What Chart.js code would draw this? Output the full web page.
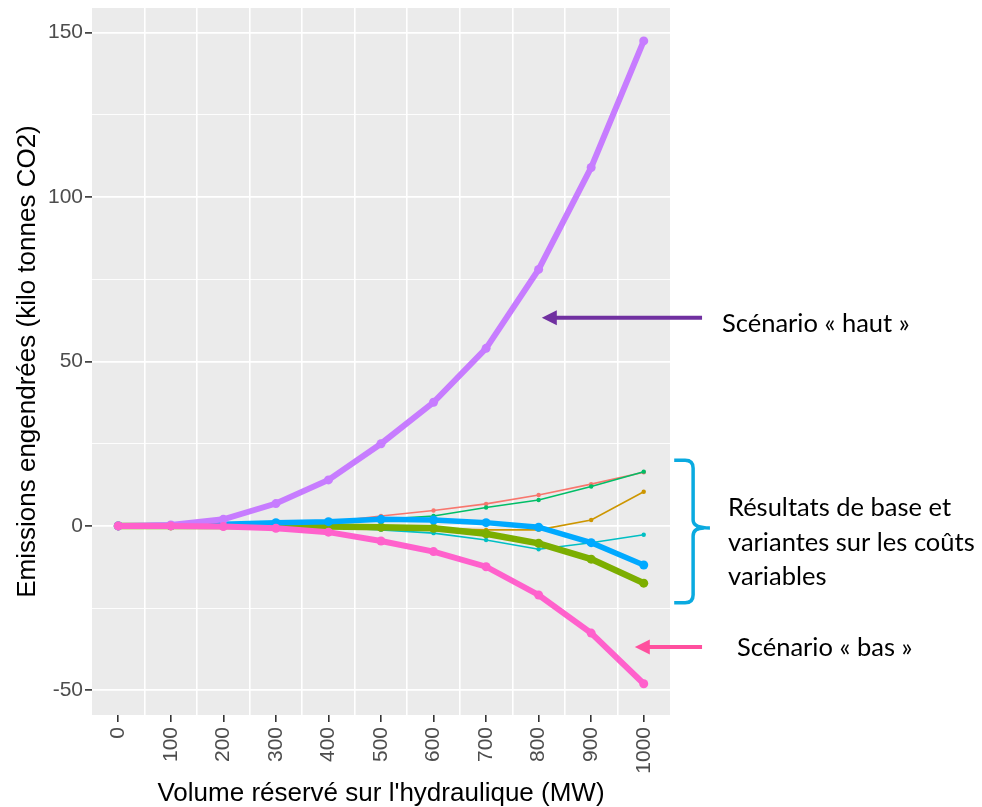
<!DOCTYPE html>
<html lang="fr">
<head>
  <meta charset="UTF-8">
  <title>Emissions engendrées — volume réservé sur l'hydraulique</title>
  <script src="https://cdn.jsdelivr.net/npm/chart.js@4/dist/chart.umd.min.js"></script>
  <style>
    * { margin: 0; padding: 0; box-sizing: border-box; }
    body { background: #fff; width: 982px; height: 807px; overflow: hidden; }
    .wrap { position: relative; width: 982px; height: 807px; }
  </style>
</head>
<body>
  <div class="wrap"><canvas id="chart"></canvas></div>

  <script>
    // ── Data ─────────────────────────────────────────────────────────────────
    const volumes = [0, 100, 200, 300, 400, 500, 600, 700, 800, 900, 1000];

    const scenarioBas   = [0, 0, -0.2, -0.7, -1.9, -4.6, -7.8, -12.4, -21.0, -32.6, -48.0];
    const scenarioHaut  = [0, 0.3, 2.0, 6.8, 14.0, 25.0, 37.6, 54.0, 78.0, 109.0, 147.5];
    const resultatBase  = [0, 0.1, 0.5, 1.0, 1.3, 2.0, 1.8, 1.0, -0.4, -5.1, -11.9];
    const varianteOlive = [0, 0, 0, -0.1, -0.2, -0.4, -0.7, -2.4, -5.3, -10.1, -17.4];
    const varianteTeal  = [0, 0, -0.1, -0.3, -0.4, -1.2, -2.2, -4.3, -7.1, -5.1, -2.7];
    const varianteVert  = [0, 0, 0.2, 0.5, 1.0, 2.0, 3.0, 5.6, 7.9, 12.0, 16.5];
    const varianteOr    = [0, 0, 0, -0.2, -0.4, -0.6, -0.8, -1.2, -1.2, 1.8, 10.4];
    const varianteRouge = [0, 0, 0.2, 0.5, 1.2, 3.0, 4.7, 6.7, 9.4, 12.7, 16.3];

    const xTicks = [0, 100, 200, 300, 400, 500, 600, 700, 800, 900, 1000];
    const yTicks = [-50, 0, 50, 100, 150];

    // ── Helpers ──────────────────────────────────────────────────────────────
    const pts = (ys) => volumes.map((x, i) => ({ x, y: ys[i] }));

    function series(ys, color, width, radius) {
      return {
        data: pts(ys),
        borderColor: color,
        backgroundColor: color,
        borderWidth: width,
        pointRadius: radius,
        pointBorderWidth: 0,
        pointHoverRadius: radius,
        tension: 0,
      };
    }

    // dataset 0 is painted last (on top)
    const datasets = [
      series(scenarioBas,   '#FF61CC', 6,   4.5),
      series(scenarioHaut,  '#C77CFF', 6,   4.5),
      series(resultatBase,  '#00A9FF', 5.5, 4.5),
      series(varianteOlive, '#7CAE00', 6.5, 4.5),
      series(varianteTeal,  '#00BFC4', 1.6, 2.2),
      series(varianteVert,  '#00BE67', 1.6, 2.2),
      series(varianteOr,    '#CD9600', 1.6, 2.2),
      series(varianteRouge, '#F8766D', 1.6, 2.2),
    ];

    // ── Panel background + annotations ───────────────────────────────────────
    const panelBg = {
      id: 'panelBg',
      beforeDraw(chart) {
        const { ctx, chartArea: a } = chart;
        ctx.save();
        ctx.fillStyle = '#EBEBEB';
        ctx.fillRect(a.left, a.top, a.right - a.left, a.bottom - a.top);
        ctx.restore();
      },
    };

    function arrow(ctx, x1, y, x2, color) {
      ctx.strokeStyle = color;
      ctx.fillStyle = color;
      ctx.lineWidth = 4;
      ctx.beginPath();
      ctx.moveTo(x1, y);
      ctx.lineTo(x2 + 12, y);
      ctx.stroke();
      ctx.beginPath();
      ctx.moveTo(x2, y);
      ctx.lineTo(x2 + 15, y - 7.5);
      ctx.lineTo(x2 + 15, y + 7.5);
      ctx.closePath();
      ctx.fill();
    }

    const notes = {
      id: 'notes',
      afterDraw(chart) {
        const { ctx } = chart;
        const sx = chart.scales.x, sy = chart.scales.y;
        const px = (v) => sx.getPixelForValue(v);
        const py = (v) => sy.getPixelForValue(v);
        ctx.save();

        // purple arrow — scénario haut
        arrow(ctx, px(1111), py(63.3), px(806), '#7030A0');
        // pink arrow — scénario bas
        arrow(ctx, px(1111), py(-36.8), px(983), '#FF4F9E');

        // cyan brace
        const bx0 = px(1058), bx1 = px(1094), bx2 = px(1126);
        const top = py(20), mid = py(-0.6), bot = py(-23.4);
        ctx.strokeStyle = '#0AAAE0';
        ctx.lineWidth = 3.5;
        ctx.beginPath();
        ctx.moveTo(bx0, top);
        ctx.lineTo(bx1 - 8, top);
        ctx.quadraticCurveTo(bx1, top, bx1, top + 8);
        ctx.lineTo(bx1, mid - 8);
        ctx.quadraticCurveTo(bx1, mid, bx2, mid);
        ctx.moveTo(bx1, mid + 8);
        ctx.quadraticCurveTo(bx1, mid, bx2 - 6, mid);
        ctx.moveTo(bx1, mid + 8);
        ctx.lineTo(bx1, bot - 8);
        ctx.quadraticCurveTo(bx1, bot, bx1 - 8, bot);
        ctx.lineTo(bx0, bot);
        ctx.stroke();

        // texts
        ctx.fillStyle = '#000';
        ctx.font = '25.5px Lato, "Open Sans", sans-serif';
        ctx.textBaseline = 'middle';
        ctx.textAlign = 'left';
        ctx.fillText('Scénario « haut »', 722, py(61.5));
        ctx.fillText('Résultats de base et', 728, 508);
        ctx.fillText('variantes sur les coûts', 728, 543);
        ctx.fillText('variables', 728, 577);
        ctx.fillText('Scénario « bas »', 737, py(-37.2));
        ctx.restore();
      },
    };

    // ── Chart ────────────────────────────────────────────────────────────────
    const TICK_GREY = '#4D4D4D';
    const isXTick = (v) => xTicks.includes(v);
    const isYTick = (v) => yTicks.includes(v);

    new Chart(document.getElementById('chart'), {
      type: 'line',
      data: { datasets },
      plugins: [panelBg, notes],
      options: {
        responsive: true,
        maintainAspectRatio: false,
        animation: false,
        layout: { padding: { left: 0, top: 8, right: 312, bottom: 0 } },
        plugins: { legend: { display: false }, tooltip: { enabled: false } },
        scales: {
          x: {
            type: 'linear',
            min: -50,
            max: 1050,
            afterFit: (s) => { s.height = 92; s.paddingLeft = 0; s.paddingRight = 0; },
            border: { display: false },
            grid: {
              color: (c) => (c.tick && c.tick.value > 0 && c.tick.value < 1000 && !isXTick(c.tick.value) ? '#FFFFFF' : 'rgba(0,0,0,0)'),
              lineWidth: 1.6,
              tickColor: (c) => (c.tick && isXTick(c.tick.value) ? '#333333' : 'rgba(0,0,0,0)'),
              tickWidth: 1.6,
              tickLength: 7,
            },
            ticks: {
              stepSize: 50,
              autoSkip: false,
              minRotation: 90,
              maxRotation: 90,
              padding: 5,
              color: TICK_GREY,
              font: { family: '"Liberation Sans", Arial, sans-serif', size: 21 },
              callback: (v) => (isXTick(v) ? String(v) : ''),
            },
            title: {
              display: true,
              text: "Volume réservé sur l'hydraulique (MW)",
              color: '#000',
              font: { family: '"Liberation Sans", Arial, sans-serif', size: 26 },
              padding: { top: 0, bottom: -2 },
            },
          },
          y: {
            type: 'linear',
            min: -57.5,
            max: 157.5,
            afterFit: (s) => { s.width = 92; s.paddingTop = 0; s.paddingBottom = 0; },
            border: { display: false },
            grid: {
              color: '#FFFFFF',
              lineWidth: (c) => (c.tick && isYTick(c.tick.value) ? 1.8 : 0.9),
              tickColor: (c) => (c.tick && isYTick(c.tick.value) ? '#333333' : 'rgba(0,0,0,0)'),
              tickWidth: 1.6,
              tickLength: 7,
            },
            ticks: {
              stepSize: 25,
              includeBounds: false,
              autoSkip: false,
              padding: 2,
              color: TICK_GREY,
              font: { family: '"Liberation Sans", Arial, sans-serif', size: 21 },
              callback: (v) => (isYTick(v) ? String(v) : ''),
            },
            title: {
              display: true,
              text: 'Emissions engendrées (kilo tonnes CO2)',
              color: '#000',
              font: { family: '"Liberation Sans", Arial, sans-serif', size: 26 },
              padding: { top: 12, bottom: 0 },
            },
          },
        },
      },
    });
  </script>
</body>
</html>
